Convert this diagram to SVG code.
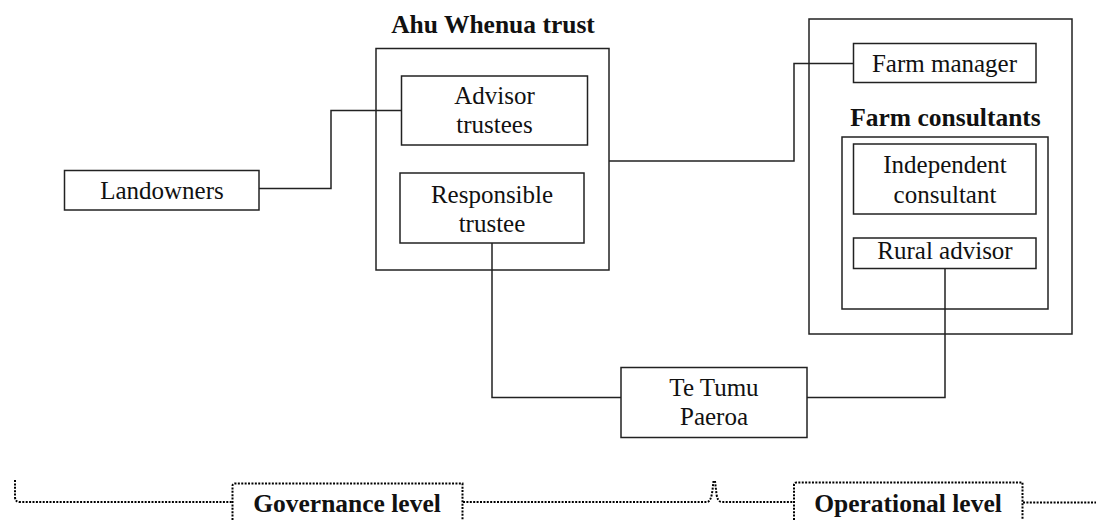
<svg xmlns="http://www.w3.org/2000/svg" width="1096" height="520" viewBox="0 0 1096 520">
<style>
  .box { fill: #ffffff; stroke: #222222; stroke-width: 1.5; }
  .frame { fill: none; stroke: #222222; stroke-width: 1.5; }
  .conn { fill: none; stroke: #222222; stroke-width: 1.5; }
  .dot { fill: none; stroke: #000000; stroke-width: 2; stroke-dasharray: 2 1.4; }
  .t { font-family: "Liberation Serif", "Times New Roman", serif; font-size: 25px; fill: #111111; text-anchor: middle; }
  .b { font-family: "Liberation Serif", "Times New Roman", serif; font-size: 25.5px; font-weight: bold; fill: #111111; text-anchor: middle; }
</style>
<rect width="1096" height="520" fill="#ffffff"/>
<g id="connectors">
  <path class="conn" d="M259,188.5 H331 V110.5 H401.5"/>
  <path class="conn" d="M609,161 H794 V63.5 H853.5"/>
  <path class="conn" d="M492,243 V397.5 H621"/>
  <path class="conn" d="M807,397.5 H945 V268.5"/>
</g>
<g id="landowners">
  <rect class="box" x="64.5" y="170.5" width="194.5" height="39.5"/>
  <text class="t" x="162" y="199">Landowners</text>
</g>
<g id="ahu-whenua-trust">
  <text class="b" x="493" y="33">Ahu Whenua trust</text>
  <rect class="frame" x="376" y="48.5" width="233" height="221.5"/>
</g>
<g id="advisor-trustees">
  <rect class="box" x="401.5" y="76" width="186" height="69"/>
  <text class="t" x="494.5" y="104">Advisor</text>
  <text class="t" x="494.5" y="133">trustees</text>
</g>
<g id="responsible-trustee">
  <rect class="box" x="400" y="173" width="184" height="70"/>
  <text class="t" x="492" y="202.5">Responsible</text>
  <text class="t" x="492" y="231.5">trustee</text>
</g>
<g id="operational-group">
  <rect class="frame" x="809" y="19" width="263" height="315"/>
</g>
<g id="farm-manager">
  <rect class="box" x="853.5" y="43.5" width="182.5" height="39"/>
  <text class="t" x="944.5" y="72">Farm manager</text>
</g>
<g id="farm-consultants">
  <text class="b" x="945.5" y="125.5">Farm consultants</text>
  <rect class="frame" x="842" y="137" width="206" height="172"/>
</g>
<g id="independent-consultant">
  <rect class="box" x="853.5" y="144" width="182.5" height="70"/>
  <text class="t" x="945" y="173">Independent</text>
  <text class="t" x="945" y="202.5">consultant</text>
</g>
<g id="rural-advisor">
  <rect class="box" x="853.5" y="238" width="182.5" height="30.5"/>
  <text class="t" x="945" y="258.5">Rural advisor</text>
</g>
<g id="te-tumu-paeroa">
  <rect class="box" x="621" y="367.5" width="186" height="70"/>
  <text class="t" x="714" y="396">Te Tumu</text>
  <text class="t" x="714" y="425">Paeroa</text>
</g>
<g id="governance-level">
  <path class="dot" d="M15,480 V497 Q15,502 20,502 H232"/>
  <path class="dot" d="M232.5,520 V486 Q232.5,483.5 235,483.5 H462.5 V520"/>
  <path class="dot" d="M463,502 H707 Q711,502 712.5,490 L713.5,481"/>
  <text class="b" x="347" y="512">Governance level</text>
</g>
<g id="operational-level">
  <path class="dot" d="M715,481 L716.5,494 Q717.5,502 722,502 H793.5"/>
  <path class="dot" d="M794,520 V485 Q794,482.5 796.5,482.5 H1022.5 V520"/>
  <path class="dot" d="M1023,502.5 H1096"/>
  <text class="b" x="908" y="512">Operational level</text>
</g>
</svg>
